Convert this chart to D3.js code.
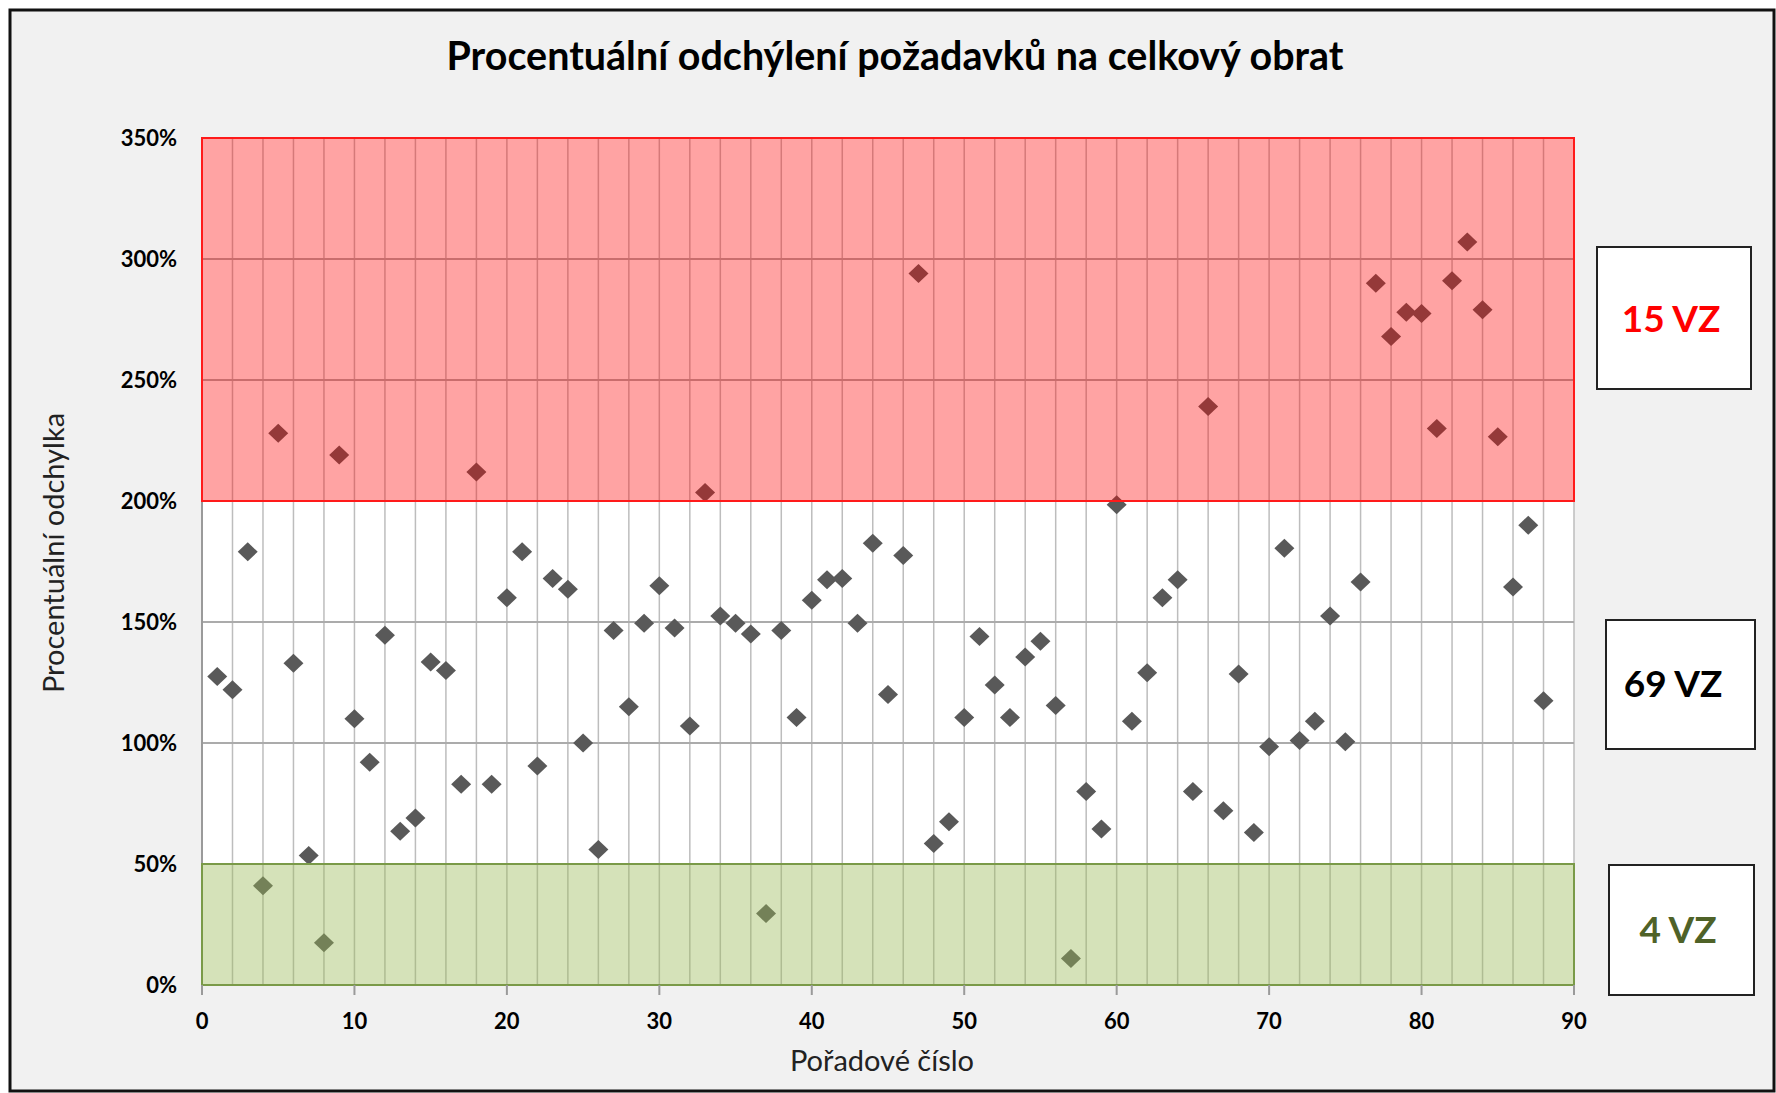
<!DOCTYPE html>
<html>
<head>
<meta charset="utf-8">
<script src="https://cdn.jsdelivr.net/npm/d3@7/dist/d3.min.js"></script>
<style>
    body { margin: 0; background: #fff; }
    svg { display: block; }
</style>
</head>
<body>
<div id="chart"></div>
<script>
// Procentuální odchylka (%) podle pořadového čísla 1..88
const deviation = [
    127.5, 122, 179, 41, 228, 133, 53.5, 17.5, 219, 110,
    92, 144.5, 63.5, 69, 133.5, 130, 83, 212, 83, 160,
    179, 90.5, 168, 163.5, 100, 56, 146.5, 115, 149.5, 165,
    147.5, 107, 203.5, 152.5, 149.5, 145, 29.5, 146.5, 110.5, 159,
    167.5, 168, 149.5, 182.5, 120, 177.5, 294, 58.5, 67.5, 110.5,
    144, 124, 110.5, 135.5, 142, 115.5, 11, 80, 64.5, 198.5,
    109, 129, 160, 167.5, 80, 239, 72, 128.5, 63, 98.5,
    180.5, 101, 109, 152.5, 100.5, 166.5, 290, 268, 278, 277.5,
    230, 291, 307, 279, 226.5, 164.5, 190, 117.5
];
const order = deviation.map((d, i) => i + 1);

const xTicks = [0, 10, 20, 30, 40, 50, 60, 70, 80, 90];
const yTicks = [0, 50, 100, 150, 200, 250, 300, 350];
const xGrid = d3.range(2, 91, 2);

// hranice pasem
const lowLimit = 50;
const highLimit = 200;

const W = 1776, H = 1093;
const margin = { top: 138, right: 202, bottom: 108, left: 202 },
    width = W - margin.left - margin.right,
    height = H - margin.top - margin.bottom;

const svg = d3.select("#chart")
    .append("svg")
    .attr("width", W)
    .attr("height", H);

// chart area
svg.append("rect")
    .attr("x", 10).attr("y", 10)
    .attr("width", W - 12).attr("height", H - 12)
    .attr("fill", "#f1f1f1")
    .attr("stroke", "#111")
    .attr("stroke-width", 3);

svg.append("text")
    .attr("x", 895)
    .attr("y", 70)
    .attr("text-anchor", "middle")
    .attr("textLength", 897)
    .attr("lengthAdjust", "spacingAndGlyphs")
    .style("font-family", "Lato")
    .style("font-weight", "bold")
    .style("font-size", "40px")
    .style("fill", "#000")
    .text("Procentuální odchýlení požadavků na celkový obrat");

const g = svg.append("g")
    .attr("transform", `translate(${margin.left},${margin.top})`);

const x = d3.scaleLinear().domain([0, 90]).range([0, width]);
const y = d3.scaleLinear().domain([0, 350]).range([height, 0]);

// plot background
g.append("rect")
    .attr("width", width).attr("height", height)
    .attr("fill", "#fff");

// gridlines
g.append("g")
    .selectAll("line")
    .data(xGrid)
    .join("line")
    .attr("x1", d => x(d)).attr("x2", d => x(d))
    .attr("y1", 0).attr("y2", height)
    .attr("stroke", "#bdbdbd")
    .attr("stroke-width", 1.5);

g.append("g")
    .selectAll("line")
    .data(yTicks.filter(d => d > 0))
    .join("line")
    .attr("x1", 0).attr("x2", width)
    .attr("y1", d => y(d)).attr("y2", d => y(d))
    .attr("stroke", "#ababab")
    .attr("stroke-width", 2);

// y axis line
g.append("line")
    .attr("x1", 0).attr("x2", 0)
    .attr("y1", 0).attr("y2", height)
    .attr("stroke", "#9a9a9a")
    .attr("stroke-width", 2);

// points (bands are drawn over them, like in the original)
g.append("g")
    .selectAll("path")
    .data(order)
    .join("path")
    .attr("transform", (d, i) => `translate(${x(d)},${y(deviation[i])})`)
    .attr("d", "M0,-9.5L10,0L0,9.5L-10,0Z")
    .attr("fill", "#595959");

// red band
g.append("rect")
    .attr("x", 0).attr("y", y(350))
    .attr("width", width).attr("height", y(highLimit) - y(350))
    .attr("fill", "rgba(255,0,0,0.36)")
    .attr("stroke", "#ff1a1a")
    .attr("stroke-width", 2);

// green band
g.append("rect")
    .attr("x", 0).attr("y", y(lowLimit))
    .attr("width", width).attr("height", y(0) - y(lowLimit))
    .attr("fill", "rgba(155,187,89,0.42)")
    .attr("stroke", "#7a9a48")
    .attr("stroke-width", 2);

// x axis ticks
g.append("g")
    .selectAll("line")
    .data(xTicks)
    .join("line")
    .attr("x1", d => x(d)).attr("x2", d => x(d))
    .attr("y1", height).attr("y2", height + 10)
    .attr("stroke", "#9a9a9a")
    .attr("stroke-width", 2);

g.append("g")
    .selectAll("text")
    .data(xTicks)
    .join("text")
    .attr("x", d => x(d))
    .attr("y", height + 44)
    .attr("text-anchor", "middle")
    .style("font-family", "Lato")
    .style("font-weight", "bold")
    .style("font-size", "22px")
    .text(d => d);

g.append("g")
    .selectAll("text")
    .data(yTicks)
    .join("text")
    .attr("x", -25)
    .attr("y", d => y(d) + 8)
    .attr("text-anchor", "end")
    .style("font-family", "Lato")
    .style("font-weight", "bold")
    .style("font-size", "22px")
    .text(d => d + "%");

// axis titles
svg.append("text")
    .attr("x", 882)
    .attr("y", 1071)
    .attr("text-anchor", "middle")
    .style("font-family", "Lato")
    .style("font-size", "29px")
    .style("fill", "#222")
    .text("Pořadové číslo");

svg.append("text")
    .attr("transform", "translate(64,553) rotate(-90)")
    .attr("text-anchor", "middle")
    .style("font-family", "Lato")
    .style("font-size", "29px")
    .style("fill", "#222")
    .text("Procentuální odchylka");

// count boxes
const counts = [
    { n: deviation.filter(d => d > highLimit).length, color: "#ff0000", box: [1597, 247, 154, 142], tx: 1671, ty: 332 },
    { n: deviation.filter(d => d >= lowLimit && d <= highLimit).length, color: "#000000", box: [1606, 620, 149, 129], tx: 1673, ty: 697 },
    { n: deviation.filter(d => d < lowLimit).length, color: "#4f6228", box: [1609, 865, 145, 130], tx: 1678, ty: 943 }
];

counts.forEach(function (c) {
    svg.append("rect")
        .attr("x", c.box[0]).attr("y", c.box[1])
        .attr("width", c.box[2]).attr("height", c.box[3])
        .attr("fill", "#fff")
        .attr("stroke", "#222")
        .attr("stroke-width", 2);
    svg.append("text")
        .attr("x", c.tx)
        .attr("y", c.ty)
        .attr("text-anchor", "middle")
        .style("font-family", "Lato")
        .style("font-weight", "bold")
        .style("font-size", "37px")
        .style("fill", c.color)
        .text(c.n + " VZ");
});
</script>
</body>
</html>
